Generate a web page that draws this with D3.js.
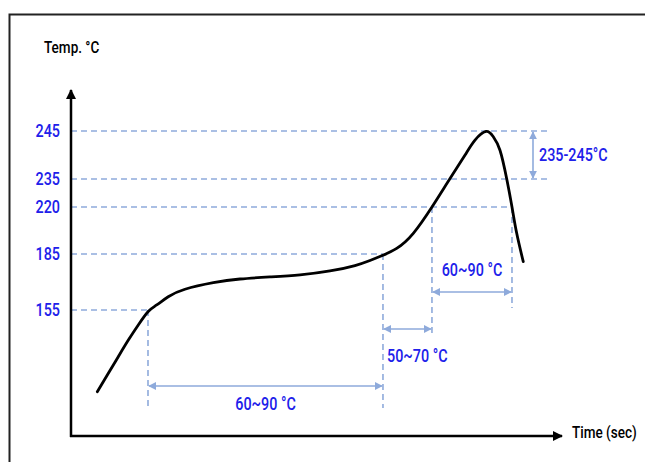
<!DOCTYPE html>
<html>
<head>
<meta charset="utf-8">
<script src="https://cdn.jsdelivr.net/npm/d3@7"></script>
<style>
  body { margin: 0; background: #fff; }
  svg text { font-family: Roboto, "DejaVu Sans", sans-serif; font-weight: 500; }
</style>
</head>
<body>
<script>
var width = 645;
var height = 462;

// ------- DATA --------

// temperature marks on the y axis (°C)
var tempTicks = [155, 185, 220, 235, 245];

// reflow profile, time (sec) and temperature (°C)
var profileTime = [21.7, 30.8, 39, 47.3, 55.5, 63.7, 70.7, 80.2, 94, 117.4, 139.4, 164.1, 188.9, 213.6, 234.2, 246.6, 255.7,
    268.6, 282.3, 297.7, 312.6, 325, 333.2, 342.3, 348.3, 353.8, 359.3, 363.7, 367.6, 373];
var profileTemp = [111.2, 121.1, 130, 138.9, 147, 154.2, 157.7, 162.1, 166.1, 169.6, 171.6, 172.7, 173.8, 175.9, 178.8, 181.5, 183.9,
    189.2, 200.4, 220, 235.1, 240, 243.1, 244.9, 243.8, 241, 235.1, 220, 200.4, 180.9];

// where each horizontal guide stops (sec)
var guideEnd = [63.5, 257.3, 363.7, 392.6, 392.6];

// times where the curve crosses 155, 185, 220 (rising) and 220 (falling)
var markTimes = [63.5, 257.3, 297.7, 363.7];
var markTemps = [155, 185, 220, 220];

// time spans and their labels
var spanFrom = [63.5, 257.3, 297.7];
var spanTo = [257.3, 297.7, 363.7];
var spanLabels = ['60~90 °C', '50~70 °C', '60~90 °C'];

var peakRangeLabel = '235-245°C';

// ------- SVG --------

var blue = '#2020ea';
var guide = '#8eaadb';

var svg = d3.select('body')
    .append('svg')
    .attr('width', width)
    .attr('height', height);

var defs = svg.append('defs');

function arrowMarker(id, color, size) {
    defs.append('marker')
        .attr('id', id)
        .attr('viewBox', '0 0 10 10')
        .attr('refX', 9)
        .attr('refY', 5)
        .attr('markerWidth', size)
        .attr('markerHeight', size)
        .attr('markerUnits', 'userSpaceOnUse')
        .attr('orient', 'auto-start-reverse')
        .append('path')
        .attr('d', 'M0,0 L10,5 L0,10 z')
        .attr('fill', color);
}
arrowMarker('axisArrow', '#000', 10);
arrowMarker('dimArrow', guide, 8);

// narrow look: squeeze each text horizontally around its anchor
function condense(sel) {
    sel.each(function() {
        var t = d3.select(this);
        var tx = +t.attr('x') || 0;
        var ty = +t.attr('y') || 0;
        t.attr('x', 0).attr('y', 0)
            .attr('transform', 'translate(' + tx + ',' + ty + ') scale(0.82,1)');
    });
}

// frame
svg.append('rect')
    .attr('x', 9.5)
    .attr('y', 14.5)
    .attr('width', 700)
    .attr('height', 500)
    .attr('fill', 'none')
    .attr('stroke', '#222')
    .attr('stroke-width', 2);

// scales (schematic, so the temperature scale is piecewise)
var x = d3.scaleLinear()
    .domain([0, 400])
    .range([71, 556]);

var y = d3.scaleLinear()
    .domain(tempTicks)
    .range([310, 254, 207, 179, 131]);

var axisY0 = 436;

// horizontal guides
svg.selectAll('line.hguide')
    .data(tempTicks)
    .enter()
    .append('line')
    .attr('class', 'hguide')
    .attr('x1', x(0))
    .attr('x2', function(d, i) { return x(guideEnd[i]); })
    .attr('y1', function(d) { return y(d); })
    .attr('y2', function(d) { return y(d); })
    .attr('stroke', guide)
    .attr('stroke-width', 1.6)
    .attr('stroke-dasharray', '6,4');

// vertical guides
var markBottom = [407, 408, 333, 308];
svg.selectAll('line.vguide')
    .data(markTimes)
    .enter()
    .append('line')
    .attr('class', 'vguide')
    .attr('x1', function(d) { return x(d); })
    .attr('x2', function(d) { return x(d); })
    .attr('y1', function(d, i) { return y(markTemps[i]); })
    .attr('y2', function(d, i) { return markBottom[i]; })
    .attr('stroke', guide)
    .attr('stroke-width', 1.6)
    .attr('stroke-dasharray', '6,4');

// span arrows
var spanY = [386, 329, 292];
var labelY = [404, 356, 270];
spanFrom.forEach(function(f, i) {
    svg.append('line')
        .attr('x1', x(f) + 1)
        .attr('x2', x(spanTo[i]) - 1)
        .attr('y1', spanY[i])
        .attr('y2', spanY[i])
        .attr('stroke', guide)
        .attr('stroke-width', 1.6)
        .attr('marker-start', 'url(#dimArrow)')
        .attr('marker-end', 'url(#dimArrow)');
});

svg.selectAll('text.span')
    .data(spanLabels)
    .enter()
    .append('text')
    .attr('class', 'span')
    .attr('x', function(d, i) {
        if (i === 1) return x(spanFrom[i]) + 4;
        return (x(spanFrom[i]) + x(spanTo[i])) / 2;
    })
    .attr('y', function(d, i) { return labelY[i]; })
    .attr('dy', '0.35em')
    .attr('text-anchor', function(d, i) { return i === 1 ? 'start' : 'middle'; })
    .attr('fill', blue)
    .attr('font-size', 17.5)
    .text(function(d) { return d; })
    .call(condense);

// peak range arrow
svg.append('line')
    .attr('x1', 533)
    .attr('x2', 533)
    .attr('y1', y(245) + 1)
    .attr('y2', y(235) - 1)
    .attr('stroke', guide)
    .attr('stroke-width', 1.6)
    .attr('marker-start', 'url(#dimArrow)')
    .attr('marker-end', 'url(#dimArrow)');

svg.append('text')
    .attr('x', 539)
    .attr('y', (y(245) + y(235)) / 2)
    .attr('dy', '0.35em')
    .attr('fill', blue)
    .attr('font-size', 17.5)
    .text(peakRangeLabel)
    .call(condense);

// profile curve
var line = d3.line()
    .x(function(d) { return x(d[0]); })
    .y(function(d) { return y(d[1]); })
    .curve(d3.curveNatural);

svg.append('path')
    .datum(d3.zip(profileTime, profileTemp))
    .attr('d', line)
    .attr('fill', 'none')
    .attr('stroke', '#000')
    .attr('stroke-width', 2.8)
    .attr('stroke-linecap', 'round')
    .attr('stroke-linejoin', 'round');

// axes
svg.append('line')
    .attr('x1', x(0))
    .attr('x2', x(0))
    .attr('y1', axisY0 + 1)
    .attr('y2', 90)
    .attr('stroke', '#000')
    .attr('stroke-width', 2.5)
    .attr('marker-end', 'url(#axisArrow)');

svg.append('line')
    .attr('x1', x(0) - 1)
    .attr('x2', 562)
    .attr('y1', axisY0)
    .attr('y2', axisY0)
    .attr('stroke', '#000')
    .attr('stroke-width', 2.5)
    .attr('marker-end', 'url(#axisArrow)');

var yAxis = svg.append('g')
    .attr('transform', 'translate(' + (x(0) - 11) + ',0)')
    .call(d3.axisLeft(y).tickValues(tempTicks).tickSize(0).tickPadding(0));
yAxis.select('.domain').remove();
yAxis.selectAll('text')
    .attr('fill', blue)
    .attr('font-size', 17.5)
    .style('font-family', 'Roboto, "DejaVu Sans", sans-serif')
    .style('font-weight', 500)
    .call(condense);

svg.append('text')
    .attr('x', 44)
    .attr('y', 47)
    .attr('dy', '0.35em')
    .attr('font-size', 16.5)
    .attr('fill', '#000')
    .text('Temp. °C')
    .call(condense);

svg.append('text')
    .attr('x', 572)
    .attr('y', 432)
    .attr('dy', '0.35em')
    .attr('font-size', 16.5)
    .attr('fill', '#000')
    .text('Time (sec)')
    .call(condense);
</script>
</body>
</html>
